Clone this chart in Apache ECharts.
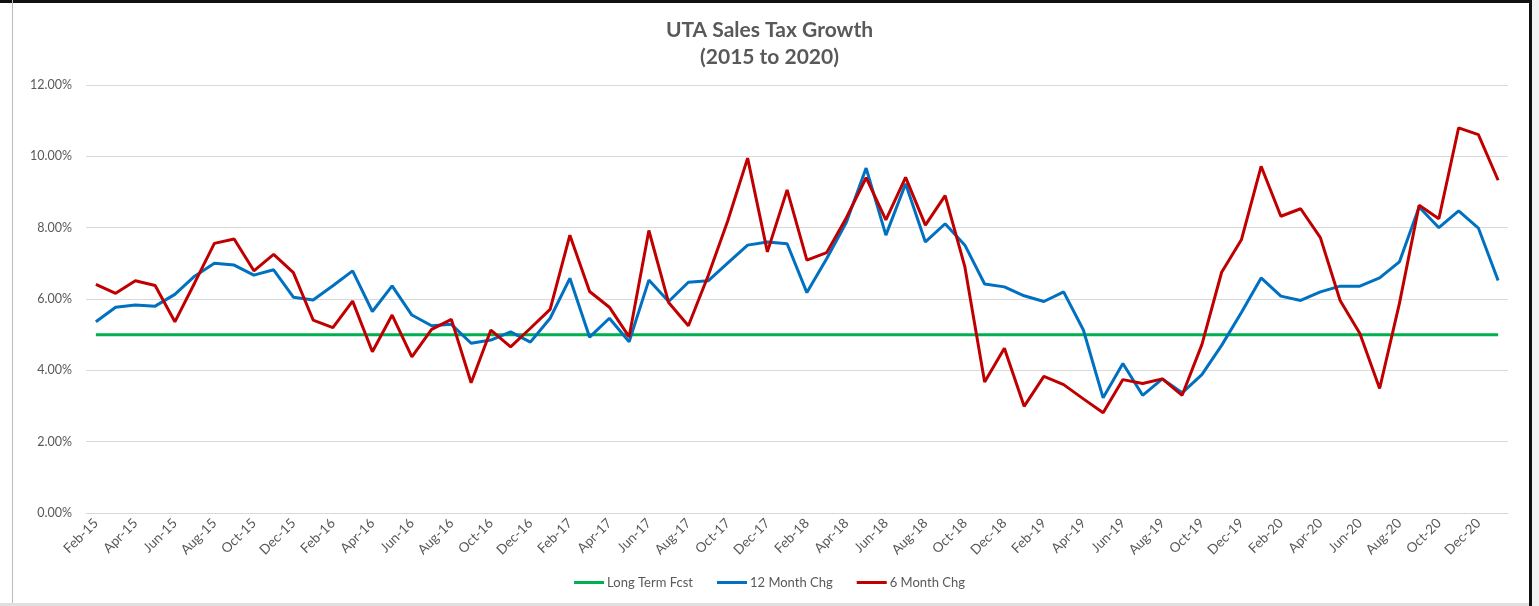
<!DOCTYPE html>
<html>
<head>
<meta charset="utf-8">
<title>UTA Sales Tax Growth</title>
<script src="https://cdn.jsdelivr.net/npm/echarts@6/dist/echarts.min.js"></script>
<style>
  html, body { margin: 0; padding: 0; background: #fff; }
  #chart { width: 1539px; height: 606px; }
</style>
</head>
<body>
<div id="chart"></div>
<script>
// months Feb-15 .. Jan-21
const monthNames = ['Jan', 'Feb', 'Mar', 'Apr', 'May', 'Jun', 'Jul', 'Aug', 'Sep', 'Oct', 'Nov', 'Dec']
const categories = []
for (let k = 1; k <= 72; k++) {
  const y = 15 + Math.floor(k / 12)
  categories.push(monthNames[k % 12] + '-' + y)
}

const longTermFcst = new Array(72).fill(5.0)

const chg12 = [
  5.36, 5.77, 5.83, 5.80, 6.13, 6.64, 7.00, 6.95, 6.67, 6.82, 6.05, 5.97,
  6.37, 6.79, 5.65, 6.37, 5.55, 5.25, 5.29, 4.76, 4.85, 5.08, 4.79, 5.46,
  6.58, 4.93, 5.46, 4.80, 6.53, 5.93, 6.47, 6.51, 7.01, 7.51, 7.60, 7.55,
  6.18, 7.13, 8.15, 9.67, 7.79, 9.23, 7.60, 8.11, 7.51, 6.42, 6.34, 6.09,
  5.93, 6.20, 5.13, 3.23, 4.19, 3.30, 3.76, 3.37, 3.88, 4.70, 5.62, 6.59,
  6.08, 5.96, 6.20, 6.36, 6.36, 6.59, 7.04, 8.58, 8.00, 8.47, 7.99, 6.52
]

const chg6 = [
  6.41, 6.16, 6.51, 6.38, 5.36, 6.45, 7.56, 7.68, 6.79, 7.25, 6.74, 5.41,
  5.20, 5.94, 4.52, 5.55, 4.38, 5.15, 5.43, 3.65, 5.13, 4.66, 5.18, 5.71,
  7.79, 6.21, 5.77, 4.94, 7.92, 5.90, 5.25, 6.65, 8.20, 9.95, 7.32, 9.06,
  7.09, 7.30, 8.28, 9.40, 8.22, 9.41, 8.07, 8.90, 6.90, 3.67, 4.62, 2.99,
  3.83, 3.60, 3.20, 2.81, 3.74, 3.63, 3.76, 3.30, 4.72, 6.75, 7.66, 9.72,
  8.32, 8.53, 7.72, 5.96, 5.03, 3.49, 5.87, 8.63, 8.25, 10.80, 10.61, 9.33
]

const yTicks = [0, 2, 4, 6, 8, 10, 12]

const textColor = '#595959'
const gridColor = '#D9D9D9'
const font = 'Lato, "Open Sans", sans-serif'

function lineSeries(name, data, color) {
  return {
    name,
    type: 'line',
    data,
    symbol: 'none',
    lineStyle: { width: 3, color },
    itemStyle: { color },
    z: name === 'Long Term Fcst' ? 2 : 3
  }
}

const chart = echarts.init(document.getElementById('chart'))
chart.setOption({
  backgroundColor: '#fff',
  animation: false,
  title: {
    text: 'UTA Sales Tax Growth\n(2015 to 2020)',
    left: 'center',
    top: 12,
    textStyle: {
      fontFamily: font,
      fontSize: 21,
      fontWeight: 'bold',
      color: textColor,
      lineHeight: 27
    }
  },
  legend: {
    bottom: 12,
    left: 'center',
    icon: 'rect',
    itemWidth: 30,
    itemHeight: 3,
    itemGap: 24,
    textStyle: { fontFamily: font, fontSize: 13, color: textColor, padding: [0, 0, 0, -2] },
    data: ['Long Term Fcst', '12 Month Chg', '6 Month Chg']
  },
  grid: { left: 86, right: 31, top: 85, bottom: 93 },
  xAxis: {
    type: 'category',
    data: categories,
    boundaryGap: true,
    axisLine: { lineStyle: { color: gridColor, width: 1 } },
    axisTick: { interval: 1, length: 5, lineStyle: { color: gridColor } },
    axisLabel: {
      interval: 1,
      rotate: 45,
      margin: 8,
      fontFamily: font,
      fontSize: 13.5,
      color: textColor
    }
  },
  yAxis: {
    type: 'value',
    min: yTicks[0],
    max: yTicks[yTicks.length - 1],
    interval: 2,
    axisLine: { show: false },
    axisTick: { show: false },
    splitLine: { lineStyle: { color: gridColor, width: 1 } },
    axisLabel: {
      margin: 14,
      fontFamily: font,
      fontSize: 12.5,
      color: textColor,
      formatter: (v) => v.toFixed(2) + '%'
    }
  },
  series: [
    lineSeries('Long Term Fcst', longTermFcst, '#00B050'),
    lineSeries('12 Month Chg', chg12, '#0070C0'),
    lineSeries('6 Month Chg', chg6, '#C00000')
  ],
  graphic: [
    // frame of the pasted screenshot
    { type: 'rect', shape: { x: 0, y: 0, width: 1539, height: 3 }, style: { fill: '#111' } },
    { type: 'rect', shape: { x: 12, y: 0, width: 1, height: 606 }, style: { fill: '#bbb' } },
    { type: 'rect', shape: { x: 0, y: 603, width: 1539, height: 3 }, style: { fill: '#e0e0e0' } },
    { type: 'rect', shape: { x: 1529, y: 0, width: 3, height: 606 }, style: { fill: '#111' } },
    { type: 'rect', shape: { x: 1532, y: 0, width: 7, height: 606 }, style: { fill: '#f2f2f2' } }
  ]
})
</script>
</body>
</html>
